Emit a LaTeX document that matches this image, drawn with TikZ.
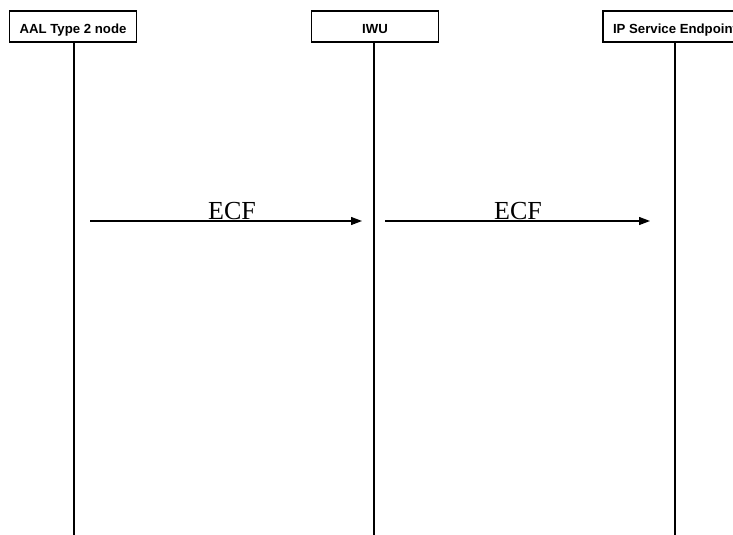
\documentclass[tikz,border=0pt]{standalone}
\usepackage{fontspec}
\setmainfont{Liberation Serif}
\newfontfamily\boxfont{Liberation Sans}
\usetikzlibrary{arrows.meta}
\begin{document}
\begin{tikzpicture}[x=1pt,y=-1pt,
  entity/.style={draw, line width=1.4pt, minimum width=127pt, minimum height=31pt,
    inner sep=0pt, text height=15pt, text depth=0pt,
    font=\boxfont\bfseries\fontsize{13.2}{15}\selectfont},
  lifeline/.style={line width=1.4pt},
  msg/.style={line width=1.3pt, -{Triangle[length=11pt,width=8pt]}},
  msglabel/.style={font=\fontsize{26}{28}\selectfont, inner sep=0pt, anchor=base}]
  \useasboundingbox (0,0) rectangle (733,535);
  \clip (0,0) rectangle (733,535);
  % participants
  \node[entity] (aal) at (73,26.5) {AAL Type 2 node};
  \node[entity] (iwu) at (375,26.5) {IWU};
  \node[entity, minimum width=144pt] (ip) at (675,26.5) {IP Service Endpoint};
  % lifeline ends
  \coordinate (aalEnd) at (74,536);
  \coordinate (iwuEnd) at (374,536);
  \coordinate (ipEnd) at (675,536);
  \draw[lifeline] (aal.south -| aalEnd) -- (aalEnd);
  \draw[lifeline] (iwu.south -| iwuEnd) -- (iwuEnd);
  \draw[lifeline] (ip.south -| ipEnd) -- (ipEnd);
  % message end points
  \coordinate (m1s) at (90,221);
  \coordinate (m1e) at (362,221);
  \coordinate (m2s) at (385,221);
  \coordinate (m2e) at (650,221);
  \draw[msg] (m1s) -- (m1e);
  \draw[msg] (m2s) -- (m2e);
  \node[msglabel] (l1) at (232,219.5) {ECF};
  \node[msglabel] (l2) at (518,219.5) {ECF};
\end{tikzpicture}
\end{document}
